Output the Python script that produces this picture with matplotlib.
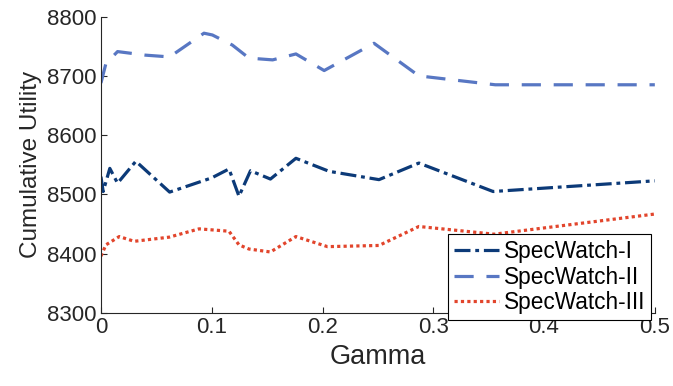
import matplotlib
matplotlib.use('Agg')
import matplotlib.pyplot as plt

plt.rcParams['font.family'] = ['Liberation Sans', 'DejaVu Sans']

# SpecWatch-I
g1 = [0, 0.002, 0.008, 0.015, 0.0315, 0.062, 0.1, 0.1156, 0.1246, 0.135, 0.153, 0.176, 0.206, 0.251, 0.287, 0.354, 0.5]
u1 = [8530, 8505, 8544, 8519, 8556, 8504, 8528, 8543, 8497, 8540, 8526, 8561, 8539, 8525, 8553, 8505, 8523]

# SpecWatch-II
g2 = [0, 0.0045, 0.015, 0.04, 0.062, 0.093, 0.1006, 0.1186, 0.1336, 0.155, 0.176, 0.2015, 0.2465, 0.287, 0.356, 0.5]
u2 = [8688, 8721, 8741, 8735, 8732, 8772, 8769, 8752, 8730, 8727, 8737, 8709, 8755, 8700, 8685, 8685]

# SpecWatch-III
g3 = [0, 0.0045, 0.0165, 0.03, 0.0616, 0.0886, 0.1156, 0.1246, 0.1336, 0.153, 0.176, 0.2045, 0.251, 0.287, 0.355, 0.5]
u3 = [8396, 8415, 8429, 8421, 8428, 8442, 8438, 8415, 8408, 8403, 8429, 8412, 8414, 8446, 8433, 8467]

fig = plt.figure(figsize=(6.73, 3.86), dpi=100)
ax = fig.add_axes([0.150, 0.189, 0.823, 0.768])

ax.plot(g1, u1, color='#0c3a78', linestyle=(0, (5, 1.5, 1.2, 1.5)), linewidth=2.3, label='SpecWatch-I')
ax.plot(g2, u2, color='#5877c3', linestyle=(0, (6, 4)), linewidth=2.3, label='SpecWatch-II')
ax.plot(g3, u3, color='#e2452c', linestyle=(0, (1, 1)), linewidth=2.3, label='SpecWatch-III')

ax.set_xlim(0, 0.5)
ax.set_ylim(8300, 8800)
ax.set_xticks([0, 0.1, 0.2, 0.3, 0.4, 0.5])
ax.set_xticklabels(['0', '0.1', '0.2', '0.3', '0.4', '0.5'])
ax.set_yticks([8300, 8400, 8500, 8600, 8700, 8800])

ax.spines['top'].set_visible(False)
ax.spines['right'].set_visible(False)
for s in ['left', 'bottom']:
    ax.spines[s].set_color('#262626')
    ax.spines[s].set_linewidth(0.8)
ax.tick_params(direction='in', length=4, width=0.8, color='#262626', labelsize=16, labelcolor='#262626', pad=3)

ax.set_xlabel('Gamma', fontsize=19.5, color='#262626')
ax.set_ylabel('Cumulative Utility', fontsize=17.5, color='#262626', labelpad=4)

leg = ax.legend(loc='lower right', bbox_to_anchor=(0.967, 0.171), bbox_transform=fig.transFigure,
                fontsize=16.3, frameon=True, fancybox=False, framealpha=1, edgecolor='black',
                handlelength=2.0, handletextpad=0.2, borderpad=0.25, labelspacing=0.12, borderaxespad=0)
leg.get_frame().set_linewidth(0.8)

fig.savefig('out.png', dpi=100)
